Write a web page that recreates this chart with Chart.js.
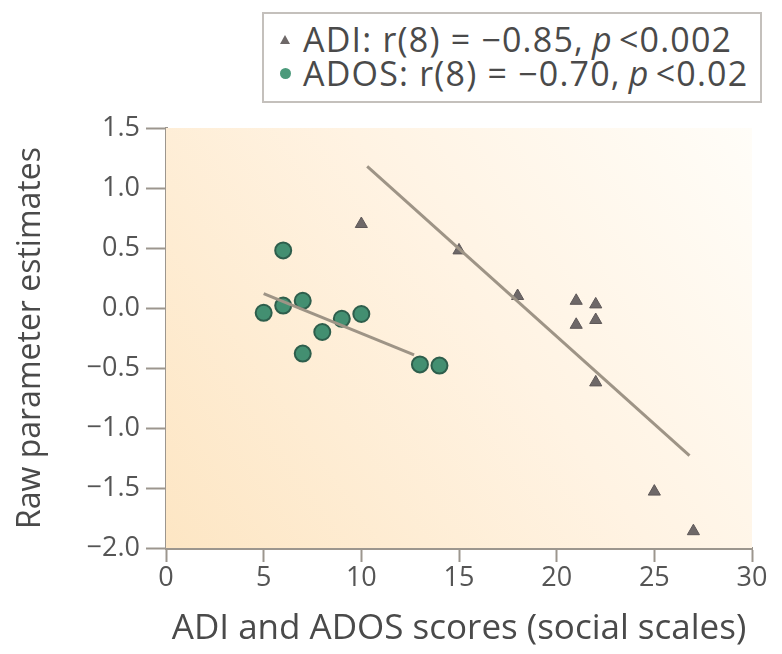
<!DOCTYPE html>
<html>
<head>
<meta charset="utf-8">
<script src="https://cdn.jsdelivr.net/npm/chart.js@4"></script>
<style>
  body { margin: 0; background: #fff; }
  #wrap { position: relative; width: 782px; height: 654px; }
  #legend {
    position: absolute; left: 262px; top: 12px; width: 500px; height: 91px;
    border: 2px solid #c4c0bc; background: #fff; box-sizing: border-box;
    font-family: "Open Sans", sans-serif; font-size: 34px; color: #4a4a4a;
    padding: 8px 0 0 16px; line-height: 34px; letter-spacing: 1.2px;
  }
  #legend .row { display: flex; align-items: center; white-space: nowrap; }
  #legend .tri { width: 0; height: 0; border-left: 5px solid transparent; border-right: 5px solid transparent;
    border-bottom: 9px solid #6e6868; margin-right: 13px; }
  #legend .dot { width: 11px; height: 11px; border-radius: 50%; background: #4b9a7b; margin-right: 12px; }
  #legend i { margin: 0 6px 0 8px; }
</style>
</head>
<body>
<div id="wrap">
  <canvas id="mycanvas" width="782" height="654"></canvas>
  <div id="legend">
    <div class="row"><span class="tri"></span>ADI: r(8) = &minus;0.85, <i>p</i> &lt;0.002</div>
    <div class="row"><span class="dot"></span>ADOS: r(8) = &minus;0.70, <i>p</i> &lt;0.02</div>
  </div>
</div>
<script>
// ADI scores vs raw parameter estimates (triangles)
var adi_x = [10, 15, 18, 21, 22, 21, 22, 22, 25, 27];
var adi_y = [0.70, 0.48, 0.10, 0.06, 0.03, -0.14, -0.10, -0.62, -1.53, -1.86];
// ADOS scores (circles)
var ados_x = [6, 5, 6, 7, 9, 10, 8, 7, 13, 14];
var ados_y = [0.48, -0.04, 0.02, 0.06, -0.09, -0.05, -0.20, -0.38, -0.47, -0.48];
// regression line ends
var adi_fit_x = [10.3, 26.8];
var adi_fit_y = [1.18, -1.23];
var ados_fit_x = [5.0, 12.7];
var ados_fit_y = [0.12, -0.39];

var x_ticks = [0, 5, 10, 15, 20, 25, 30];
var y_ticks = [1.5, 1.0, 0.5, 0.0, -0.5, -1.0, -1.5, -2.0];

function pts(xs, ys) {
    var out = [];
    for (var i = 0; i < xs.length; i++) {
        out.push({x: xs[i], y: ys[i]});
    }
    return out;
}

var bgPlugin = {
    id: 'bgGradient',
    beforeDatasetsDraw: function(chart) {
        var a = chart.chartArea, c = chart.ctx;
        var g = c.createLinearGradient(a.left, a.bottom, a.right, a.top);
        g.addColorStop(0, '#fde6c4');
        g.addColorStop(0.55, '#fff3e3');
        g.addColorStop(1, '#fffdf8');
        c.save();
        c.fillStyle = g;
        c.fillRect(a.left, a.top, a.right - a.left, a.bottom - a.top);
        c.restore();
    }
};

var axisColor = '#9c968e';
var tickFont = {family: 'Open Sans', size: 27};

var ctx = document.getElementById('mycanvas');
var graph = new Chart(ctx, {
    type: 'scatter',
    data: {
        datasets: [
            {
                label: 'ADI fit',
                type: 'line',
                data: pts(adi_fit_x, adi_fit_y),
                borderColor: '#9e9486',
                borderWidth: 3,
                pointRadius: 0,
                fill: false
            },
            {
                label: 'ADOS fit',
                type: 'line',
                data: pts(ados_fit_x, ados_fit_y),
                borderColor: '#9e9486',
                borderWidth: 3,
                pointRadius: 0,
                fill: false
            },
            {
                label: 'ADI',
                data: pts(adi_x, adi_y),
                pointStyle: 'triangle',
                pointRadius: 7,
                backgroundColor: '#6e6868',
                borderColor: '#5e5858',
                borderWidth: 1
            },
            {
                label: 'ADOS',
                data: pts(ados_x, ados_y),
                pointStyle: 'circle',
                pointRadius: 8,
                backgroundColor: '#438f71',
                borderColor: '#2e5e4c',
                borderWidth: 2
            }
        ]
    },
    options: {
        responsive: false,
        animation: false,
        layout: {padding: {top: 128, right: 30, left: 0, bottom: 0}},
        plugins: {
            legend: {display: false},
            tooltip: {enabled: false}
        },
        scales: {
            x: {
                type: 'linear',
                min: 0, max: 30,
                afterBuildTicks: function(axis) {
                    axis.ticks = x_ticks.map(function(v) { return {value: v}; });
                },
                grid: {display: true, drawOnChartArea: false, drawTicks: true, tickLength: 14, tickColor: axisColor, tickWidth: 2},
                border: {color: axisColor, width: 3},
                ticks: {color: '#555', font: tickFont, padding: 0, maxRotation: 0},
                title: {display: true, text: 'ADI and ADOS scores (social scales)', color: '#4a4a4a',
                        font: {family: 'Open Sans', size: 35}, padding: {top: 0}},
                afterFit: function(axis) { axis.height = 106; }
            },
            y: {
                type: 'linear',
                min: -2.0, max: 1.5,
                afterBuildTicks: function(axis) {
                    axis.ticks = y_ticks.map(function(v) { return {value: v}; });
                },
                grid: {display: true, drawOnChartArea: false, drawTicks: true, tickLength: 20, tickColor: axisColor, tickWidth: 2},
                border: {color: axisColor, width: 3},
                ticks: {
                    color: '#555', font: tickFont, padding: 6,
                    callback: function(v) { return (v < 0 ? '\u2212' : '') + Math.abs(v).toFixed(1); }
                },
                title: {display: true, text: 'Raw parameter estimates', color: '#4a4a4a',
                        font: {family: 'Open Sans', size: 32}, padding: {top: 12, bottom: 0}},
                afterFit: function(axis) { axis.width = 166; }
            }
        }
    },
    plugins: [bgPlugin]
});
</script>
</body>
</html>
